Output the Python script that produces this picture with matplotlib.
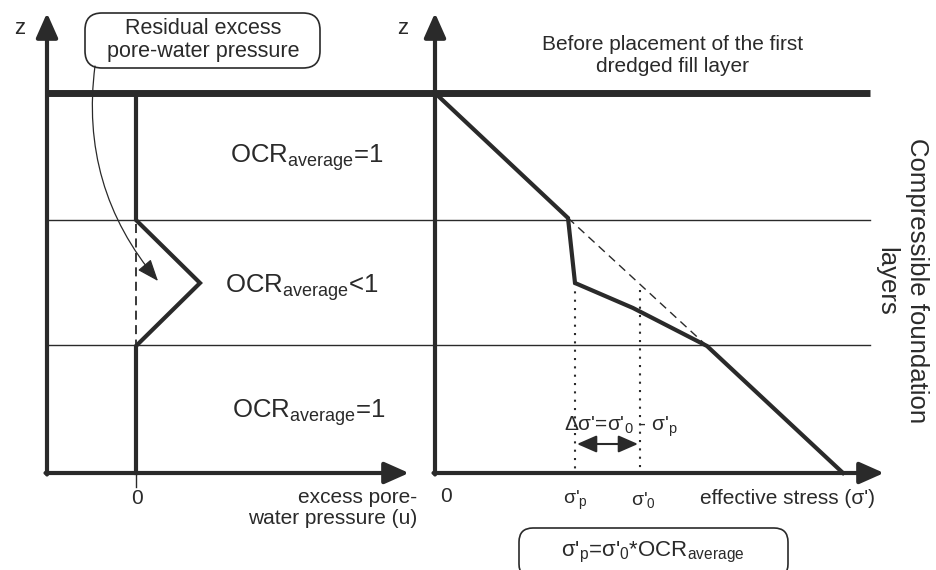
import matplotlib
matplotlib.use("Agg")
import matplotlib.pyplot as plt
from matplotlib.patches import FancyBboxPatch

plt.rcParams['font.family'] = ['Liberation Sans', 'DejaVu Sans']
plt.rcParams['mathtext.fontset'] = 'custom'
plt.rcParams['mathtext.rm'] = 'Liberation Sans'
plt.rcParams['mathtext.it'] = 'Liberation Sans:italic'
plt.rcParams['mathtext.bf'] = 'Liberation Sans:bold'

INK = '#2a2a2a'

# ---- data (schematic, in drawing units) ----
layer_levels = [93, 220, 345]          # ground surface, layer boundaries
bottom_level = 473
# left panel: residual excess pore-water pressure profile
u_x = [136, 136, 200, 136, 136]
u_z = [95, 220, 283, 346, 473]
# right panel: effective stress profile
s_x = [435, 568, 575, 633, 707, 843]
s_z = [93, 218, 283, 308, 346, 473]
# dashed extension of normally consolidated line
nc_x = [568, 707]
nc_z = [218, 346]
sigma_p = 575
sigma_0 = 640

fig = plt.figure(figsize=(9.36, 5.70), dpi=100)
ax = fig.add_axes([0, 0, 1, 1])
ax.set_xlim(0, 936)
ax.set_ylim(570, 0)
ax.axis('off')

# axes with arrows
def arrow(x0, y0, x1, y1):
    ax.annotate('', xy=(x1, y1), xytext=(x0, y0),
                arrowprops=dict(arrowstyle='-|>,head_length=1.35,head_width=0.6',
                                lw=3, color=INK, shrinkA=0, shrinkB=0,
                                mutation_scale=11))

arrow(47, bottom_level + 1.5, 47, 13)
arrow(45.5, bottom_level, 409, bottom_level)
arrow(435, bottom_level + 1.5, 435, 13)
arrow(433.5, bottom_level, 884, bottom_level)

# layer lines
ax.plot([47, 870], [layer_levels[0]] * 2, color=INK, lw=5, solid_capstyle='butt')
for lv in layer_levels[1:]:
    ax.plot([47, 870], [lv] * 2, color=INK, lw=1.0)

# profiles
ax.plot(u_x, u_z, color=INK, lw=3, solid_joinstyle='miter')
ax.plot([136, 136], [224, 345], color=INK, lw=1.3, ls=(0, (5, 3)))
ax.plot([136, 136], [474, 487], color=INK, lw=1.0)
ax.plot(s_x, s_z, color=INK, lw=3, solid_joinstyle='miter')
ax.plot(nc_x, nc_z, color=INK, lw=1.0, ls=(0, (6, 4)))
ax.plot([sigma_p, sigma_p], [283, 473], color=INK, lw=1.5, ls=(0, (1, 3)))
ax.plot([sigma_0, sigma_0], [290, 473], color=INK, lw=1.5, ls=(0, (1, 3)))

# double arrow
ax.annotate('', xy=(sigma_0 - 2, 444), xytext=(sigma_p + 2, 444),
            arrowprops=dict(arrowstyle='<|-|>,head_length=0.8,head_width=0.35',
                            lw=1.5, color=INK, shrinkA=0, shrinkB=0, mutation_scale=15))

# curved arrow from callout box
ax.annotate('', xy=(158, 281), xytext=(95, 66),
            arrowprops=dict(arrowstyle='-|>,head_length=0.9,head_width=0.35',
                            lw=0.9, color=INK, shrinkA=0, shrinkB=0,
                            connectionstyle='arc3,rad=0.22', mutation_scale=15))

# callout boxes
box1 = FancyBboxPatch((85, 13), 235, 55, boxstyle='round,pad=0,rounding_size=17',
                      fc='white', ec=INK, lw=1.2)
ax.add_patch(box1)
ax.text(203, 40, 'Residual excess\npore-water pressure', ha='center', va='center',
        fontsize=15.5, color=INK, linespacing=1.15)

box2 = FancyBboxPatch((519, 528), 269, 50, boxstyle='round,pad=0,rounding_size=14',
                      fc='white', ec=INK, lw=1.2)
ax.add_patch(box2)
ax.text(653, 552, "σ'$_\\mathrm{p}$=σ'$_\\mathrm{0}$*OCR$_\\mathrm{average}$",
        ha='center', va='center', fontsize=16, color=INK)

# labels
ax.text(20, 28, 'z', ha='center', va='center', fontsize=16, color=INK)
ax.text(403, 28, 'z', ha='center', va='center', fontsize=16, color=INK)
ax.text(673, 55, 'Before placement of the first\ndredged fill layer', ha='center',
        va='center', fontsize=15, color=INK, linespacing=1.2)
ax.text(902, 281, 'Compressible foundation\nlayers', rotation=-90, ha='center',
        va='center', fontsize=18.5, color=INK, multialignment='center', linespacing=1.35)

ocr = 'OCR$_\\mathrm{average}$'
ax.text(230, 158, ocr + '=1', ha='left', va='center', fontsize=18.5, color=INK)
ax.text(225, 288, ocr + '<1', ha='left', va='center', fontsize=18.5, color=INK)
ax.text(232, 413, ocr + '=1', ha='left', va='center', fontsize=18.5, color=INK)

ax.text(137, 499, '0', ha='center', va='center', fontsize=15, color=INK)
ax.text(446, 497, '0', ha='center', va='center', fontsize=15, color=INK)
ax.text(417, 508, 'excess pore-\nwater pressure (u)', ha='right', va='center',
        fontsize=15, color=INK, multialignment='right', linespacing=1.1)
ax.text(sigma_p, 500, "σ'$_\\mathrm{p}$", ha='center', va='center', fontsize=14, color=INK)
ax.text(sigma_0 + 3, 500, "σ'$_\\mathrm{0}$", ha='center', va='center', fontsize=14, color=INK)
ax.text(787, 498, "effective stress (σ')", ha='center', va='center', fontsize=15, color=INK)
ax.text(621, 427, "Δσ'=σ'$_\\mathrm{0}$ - σ'$_\\mathrm{p}$", ha='center', va='center',
        fontsize=15, color=INK)

fig.savefig('out.png', dpi=100, facecolor='white')
